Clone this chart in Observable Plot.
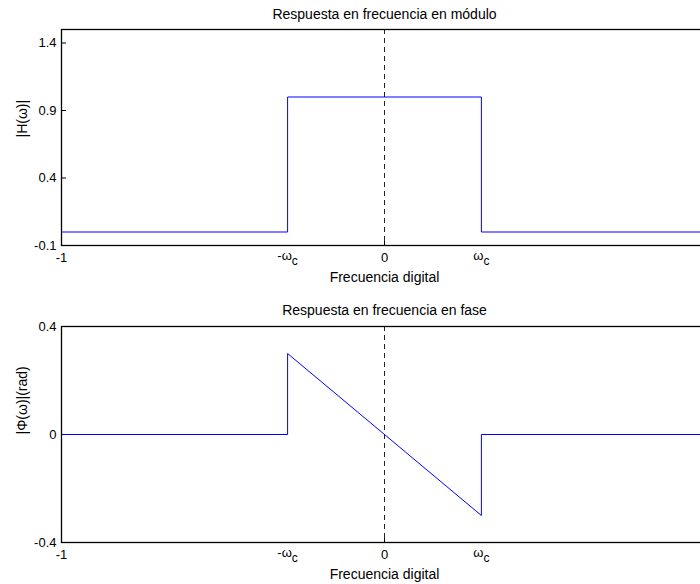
<!DOCTYPE html>
<html>
<head>
<meta charset="utf-8">
<script src="https://cdn.jsdelivr.net/npm/d3@7"></script>
<script src="https://cdn.jsdelivr.net/npm/@observablehq/plot@0.6"></script>
<style>
  html, body { margin: 0; padding: 0; background: #fff; overflow: hidden; }
  #fig { width: 700px; height: 584px; overflow: hidden; position: relative; }
  #fig svg { display: block; max-width: none !important; font-family: "Liberation Sans", Arial, sans-serif; }
</style>
</head>
<body>
<div id="fig"></div>
<script>
// Ideal low-pass filter: breakpoints of the frequency axis and the response at each
const freq = [-1, -0.3, -0.3, 0.3, 0.3, 1];
const magnitude = [0, 0, 1, 1, 0, 0];
const phase = [0, 0, 0.3, -0.3, 0, 0];

// Axis ticks and cutoff annotations
const xTicks = [-1, 0];
const magTicks = [-0.1, 0.4, 0.9, 1.4];
const phaseTicks = [-0.4, 0, 0.4];
const cutoffPos = [-0.3, 0.3];
const cutoffLabels = ["-ω", "ω"];
const cutoffSub = "c";

const titles = ["Respuesta en frecuencia en módulo", "Respuesta en frecuencia en fase"];
const xLabel = "Frecuencia digital";
const yLabels = ["|H(ω)|", "|Φ(ω)|(rad)"];

const W = 720, ML = 61, MR = 13;
const frameW = W - ML - MR;
const tickLen = 5;
const tickFont = 13;
const labelFont = 14;

function panel({values, yDomain, yTicks, title, yLabel, height, marginTop, marginBottom, titleDy}) {
  const frameH = height - marginTop - marginBottom;
  const rows = freq.map((f, i) => ({f, v: values[i]}));
  const chart = Plot.plot({
    width: W,
    height,
    marginLeft: ML,
    marginRight: MR,
    marginTop,
    marginBottom,
    style: {fontSize: tickFont + "px", fontFamily: '"Liberation Sans", Arial, sans-serif', color: "#000", background: "#fff", maxWidth: "none"},
    x: {domain: [-1, 1]},
    y: {domain: yDomain},
    marks: [
      // y tick labels
      Plot.axisY({ticks: yTicks, tickSize: 0, tickPadding: 5, tickFormat: d => String(d), label: null, fill: "#000", fontSize: tickFont}),
      // x tick labels
      Plot.axisX({ticks: xTicks, tickSize: 0, tickPadding: 7, tickFormat: d => String(d), label: null, fill: "#000", fontSize: tickFont}),
      // inward tick marks
      Plot.tickY(yTicks, {y: d => d, insetRight: frameW - tickLen, stroke: "#000"}),
      Plot.tickX(xTicks, {x: d => d, insetTop: frameH - tickLen, stroke: "#000"}),
      Plot.tickX(xTicks, {x: d => d, insetBottom: frameH - tickLen, stroke: "#000"}),
      // dashed reference at zero frequency
      Plot.ruleX([0], {stroke: "#222", strokeDasharray: "5,4", strokeWidth: 1}),
      // response curve
      Plot.line(rows, {x: "f", y: "v", stroke: "#0000ff", strokeWidth: 1, curve: "linear"}),
      // box
      Plot.frame({stroke: "#000", strokeWidth: 1.3}),
      // cutoff annotations
      Plot.text(cutoffPos, {x: d => d, text: (d, i) => cutoffLabels[i], frameAnchor: "bottom", dy: 14, fill: "#000", fontSize: tickFont, className: "cutoff-label"}),
      // title, x label, y label
      Plot.text([title], {frameAnchor: "top", dy: -titleDy, fill: "#000", lineAnchor: "middle", fontSize: labelFont}),
      Plot.text([xLabel], {frameAnchor: "bottom", dy: 32, fill: "#000", lineAnchor: "middle", fontSize: labelFont}),
      Plot.text([yLabel], {frameAnchor: "left", dx: -39, rotate: -90, fill: "#000", lineAnchor: "middle", fontSize: labelFont})
    ]
  });
  // subscript c on the cutoff labels
  chart.querySelectorAll(".cutoff-label text").forEach(t => {
    const sub = document.createElementNS("http://www.w3.org/2000/svg", "tspan");
    sub.setAttribute("dy", "5");
    sub.setAttribute("font-size", "12");
    sub.textContent = cutoffSub;
    t.appendChild(sub);
  });
  return chart;
}

const fig = document.getElementById("fig");
fig.appendChild(panel({values: magnitude, yDomain: [-0.1, 1.5], yTicks: magTicks, title: titles[0], yLabel: yLabels[0], height: 292, marginTop: 29, marginBottom: 47, titleDy: 14.5}));
fig.appendChild(panel({values: phase, yDomain: [-0.4, 0.4], yTicks: phaseTicks, title: titles[1], yLabel: yLabels[1], height: 292, marginTop: 34, marginBottom: 42, titleDy: 16}));
</script>
</body>
</html>
